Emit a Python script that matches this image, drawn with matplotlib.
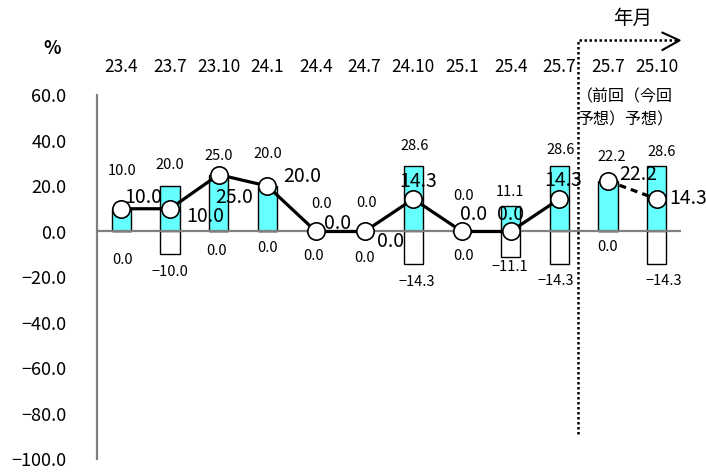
import matplotlib

matplotlib.use("Agg")
import matplotlib.pyplot as plt

plt.rcParams["font.family"] = ["Noto Sans CJK JP", "DejaVu Sans"]

categories = ["23.4", "23.7", "23.10", "24.1", "24.4", "24.7",
              "24.10", "25.1", "25.4", "25.7", "25.7", "25.10"]
up_values = [10.0, 20.0, 25.0, 20.0, 0.0, 0.0, 28.6, 0.0, 11.1, 28.6, 22.2, 28.6]
down_values = [0.0, -10.0, 0.0, 0.0, 0.0, 0.0, -14.3, 0.0, -11.1, -14.3, 0.0, -14.3]
net_values = [10.0, 10.0, 25.0, 20.0, 0.0, 0.0, 14.3, 0.0, 0.0, 14.3, 22.2, 14.3]
n_actual = 10  # first 10 points are results, the last two are forecasts

# label offsets in pixels (dx, dy), tuned to the reference layout
up_offsets = [(1, 38), (0, 21), (0, 19), (0, 32), (6, 28), (2, 29),
              (1, 20), (2, 36), (-1, 14), (1, 16), (4, 24), (5, 14)]
down_offsets = [(1, -29), (0, -18), (-2, -19), (0, -16), (-2, -24), (0, -27),
                (3, -18), (2, -25), (-1, -10), (-4, -17), (0, -15), (7, -17)]
net_offsets = [(22, 11), (35, -8), (15, -23), (35, 9), (22, 8), (26, -10),
               (5, 17), (12, 17), (0, 17), (4, 18), (30, 6), (31, 0)]


def fmt(v):
    return f"{v:.1f}".replace("-", "\u2212")


fig = plt.figure(figsize=(7.06, 4.73), dpi=100)
ax = fig.add_axes([97 / 706, 1 - 459 / 473, 584 / 706, 364 / 473])

x = list(range(len(categories)))
ax.bar(x, up_values, width=0.4, color="#66FFFF", edgecolor="black",
       linewidth=1.0, zorder=2)
ax.bar(x, down_values, width=0.4, color="white", edgecolor="black",
       linewidth=1.0, zorder=2)
ax.axhline(0, color="#808080", linewidth=1.6, zorder=3)

ax.plot(x[:n_actual], net_values[:n_actual], color="black", linewidth=2.3,
        zorder=4)
ax.plot(x[n_actual:], net_values[n_actual:], color="black", linewidth=2.3,
        linestyle=(0, (2.2, 1.6)), zorder=4)
ax.plot(x, net_values, linestyle="none", marker="o", markersize=12.5,
        markerfacecolor="white", markeredgecolor="black",
        markeredgewidth=1.2, zorder=5)

for i in x:
    ax.annotate(fmt(up_values[i]), (i, up_values[i]), xytext=up_offsets[i],
                textcoords="offset pixels", ha="center", va="center",
                fontsize=10.5, zorder=6)
    ax.annotate(fmt(down_values[i]), (i, down_values[i]),
                xytext=down_offsets[i], textcoords="offset pixels",
                ha="center", va="center", fontsize=10.5, zorder=6)
    ax.annotate(fmt(net_values[i]), (i, net_values[i]),
                xytext=net_offsets[i], textcoords="offset pixels",
                ha="center", va="center", fontsize=14, zorder=6)

ax.set_xlim(-0.5, 11.5)
ax.set_ylim(-100, 60)
ax.set_yticks(range(-100, 61, 20))
ax.set_yticklabels([fmt(v) for v in range(-100, 61, 20)], fontsize=13)
ax.set_xticks(x)
ax.set_xticklabels(categories, fontsize=12.5)
ax.xaxis.tick_top()
ax.tick_params(axis="x", length=0, pad=14)
ax.tick_params(axis="y", length=0, pad=22)
for side in ("top", "right", "bottom"):
    ax.spines[side].set_visible(False)
ax.spines["left"].set_color("#808080")
ax.spines["left"].set_linewidth(1.6)

# forecast separator with arrow
sep_x = 9.375
ax.plot([sep_x, sep_x, 11.42], [-89, 84, 84], color="black", linewidth=1.8,
        linestyle=(0, (1, 1)), clip_on=False, zorder=1)
ax.plot([11.12, 11.47, 11.12], [87.4, 84, 79.8], color="black",
        linewidth=1.5, clip_on=False)

fig.text(52 / 706, 1 - 48 / 473, "%", fontsize=13, fontweight="bold",
         ha="center", va="center")
fig.text(633 / 706, 1 - 18 / 473, "年月", fontsize=14, ha="center",
         va="center")
fig.text(577 / 706, 1 - 97 / 473, "（前回（今回", fontsize=11.5, ha="left",
         va="center")
fig.text(577 / 706, 1 - 120 / 473, "予想）予想）", fontsize=11.5, ha="left",
         va="center")

fig.savefig("out.png", dpi=100)
